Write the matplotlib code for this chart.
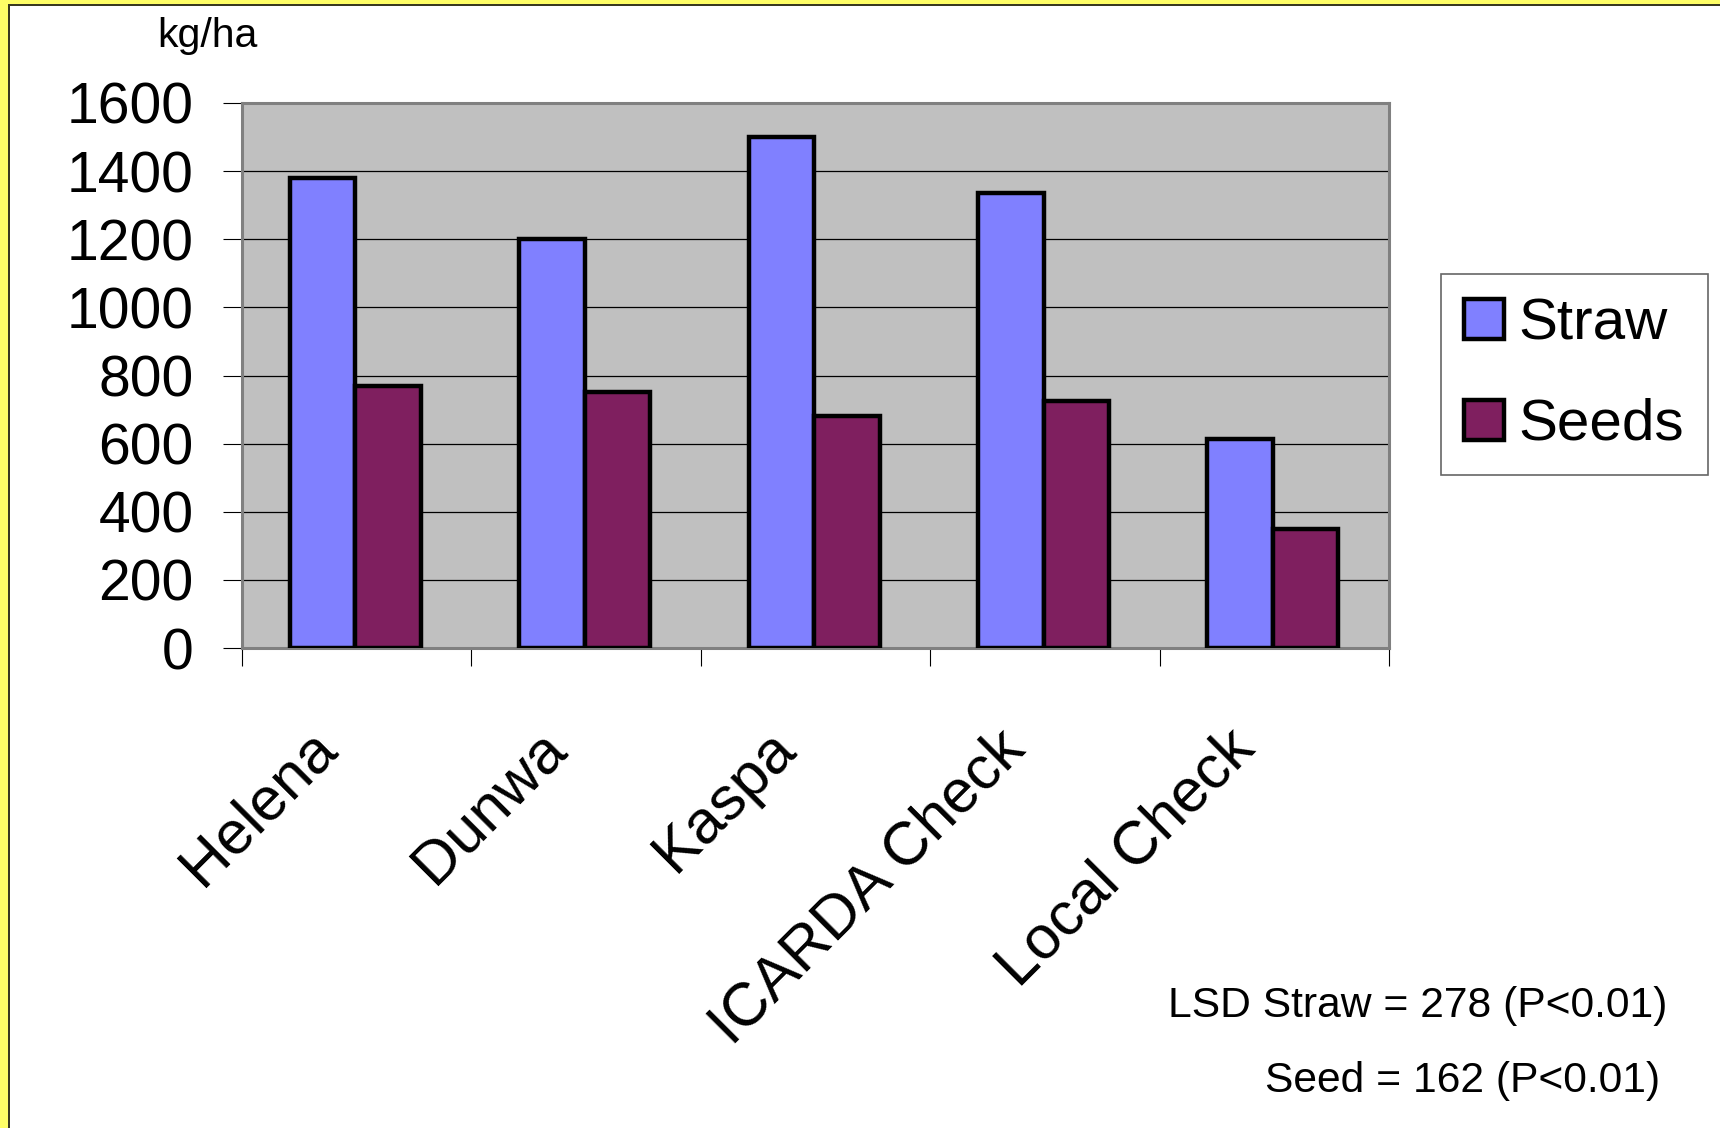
import matplotlib
matplotlib.use("Agg")
import matplotlib.pyplot as plt
import matplotlib.transforms as mtransforms
from matplotlib.patches import Rectangle
import numpy as np

plt.rcParams['font.family'] = ['Liberation Sans', 'DejaVu Sans']

# Yield per variety (kg/ha)
varieties = ['Helena', 'Dunwa', 'Kaspa', 'ICARDA Check', 'Local Check']
straw = [1380, 1200, 1500, 1335, 615]
seeds = [770, 752, 682, 725, 349]
yticks = [0, 200, 400, 600, 800, 1000, 1200, 1400, 1600]

W, H = 1720, 1128
fig = plt.figure(figsize=(W / 100, H / 100), dpi=100)
fig.patch.set_facecolor('white')

# yellow slide edge with a dark rule on the left and top
fig.add_artist(Rectangle((0, 0), 8 / W, 1, transform=fig.transFigure,
                         facecolor='#FFFF66', edgecolor='none', zorder=0))
fig.add_artist(Rectangle((0, 1 - 4 / H), 1, 4 / H, transform=fig.transFigure,
                         facecolor='#FFFF66', edgecolor='none', zorder=0))
fig.add_artist(Rectangle((8 / W, 0), 2 / W, 1 - 4 / H, transform=fig.transFigure,
                         facecolor='#3a3a20', edgecolor='none', zorder=1))
fig.add_artist(Rectangle((8 / W, 1 - 6 / H), 1 - 8 / W, 2 / H, transform=fig.transFigure,
                         facecolor='#3a3a20', edgecolor='none', zorder=1))

left, right, top, bottom = 242, 1389, 103, 648
ax = fig.add_axes([left / W, 1 - bottom / H, (right - left) / W, (bottom - top) / H])
ax.set_facecolor('#C0C0C0')

x = np.arange(len(varieties))
bw = 1 / 3.5
ax.bar(x - bw / 2 - 0.006, straw, bw, color='#8080FF', edgecolor='black', linewidth=3.2,
       label='Straw', zorder=3)
ax.bar(x + bw / 2 - 0.006, seeds, bw, color='#7F1F5F', edgecolor='black', linewidth=3.2,
       label='Seeds', zorder=3)

ax.set_xlim(-0.5, len(varieties) - 0.5)
ax.set_ylim(0, 1600)
ax.set_yticks(yticks)
ax.yaxis.grid(True, color='black', linewidth=0.9)
ax.set_axisbelow(True)

for s in ax.spines.values():
    s.set_color('#808080')
    s.set_linewidth(2.2)

ax.tick_params(axis='y', direction='out', length=13.7, width=0.8, color='black',
               labelsize=41, pad=21)

# labels at category centres, tick marks at category boundaries
ax.set_xticks(x)
ax.set_xticklabels(varieties)
ax.set_xticks(np.arange(-0.5, len(varieties)), minor=True)
ax.tick_params(axis='x', which='major', length=0, labelsize=44, pad=74)
ax.tick_params(axis='x', which='minor', direction='out', length=13, width=0.8,
               color='black')
shift = mtransforms.ScaledTranslation(-18 / 100, 0, fig.dpi_scale_trans)
for lab in ax.get_xticklabels():
    lab.set_rotation(45)
    lab.set_ha('right')
    lab.set_va('baseline')
    lab.set_rotation_mode('anchor')
    lab.set_transform(lab.get_transform() + shift)

fig.text(157 / W, 1 - 47 / H, 'kg/ha', fontsize=29.5, ha='left', va='baseline')

leg = fig.legend(loc='upper left', bbox_to_anchor=(1441 / W, 1 - 274 / H),
                 fontsize=42, frameon=True, fancybox=False, shadow=False,
                 borderpad=0.4, labelspacing=0.8, handlelength=0.68,
                 handleheight=0.68, handletextpad=0.25, borderaxespad=0)
leg.get_frame().set_edgecolor('#404040')
leg.get_frame().set_linewidth(1.2)

fig.text(1168 / W, 1 - 1017 / H, 'LSD Straw = 278 (P<0.01)', fontsize=30.7,
         ha='left', va='baseline')
fig.text(1265 / W, 1 - 1092 / H, 'Seed = 162 (P<0.01)', fontsize=30.7,
         ha='left', va='baseline')

fig.savefig('out.png', dpi=100)
